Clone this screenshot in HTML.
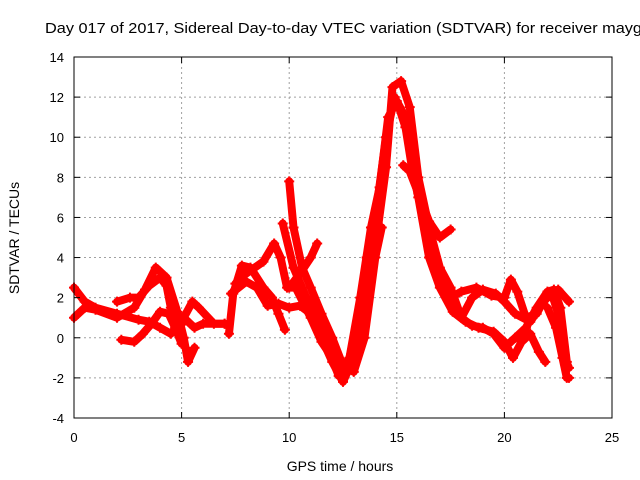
<!DOCTYPE html>
<html><head><meta charset="utf-8"><style>
body{margin:0;background:#fff}
svg{display:block;font-family:"Liberation Sans",sans-serif}
</style></head><body>
<svg id="chart" width="640" height="480">
<text x="45" y="33" font-size="15" textLength="597" lengthAdjust="spacingAndGlyphs">Day 017 of 2017, Sidereal Day-to-day VTEC variation (SDTVAR) for receiver mayg</text>
<text x="340" y="471" font-size="14" text-anchor="middle">GPS time / hours</text>
<text transform="translate(19,238) rotate(-90)" font-size="14" text-anchor="middle">SDTVAR / TECUs</text>
<g id="grid"></g><g id="series"></g><g id="axes"></g>
</svg>
<script>
const xTicks=[0,5,10,15,20,25];
const yTicks=[-4,-2,0,2,4,6,8,10,12,14];
const track1X=[0,0.5,1,2,3,3.5,4,4.5,5,5.5,5.8,6.5,7];
const track1Y=[2.5,1.8,1.5,1.2,0.9,0.8,0.5,0.2,0.8,1.8,1.5,0.7,0.7];
const track2X=[0,0.5,1,2,2.8,3.3,3.8,4.3,4.8,5.1,5.3,5.6];
const track2Y=[1.0,1.5,1.4,1.0,1.5,2.4,3.5,3.0,1.3,0,-1.2,-0.5];
const track3X=[2,2.6,3,3.5,4,4.3,4.5,4.8,5.2,5.6,6,7];
const track3Y=[1.8,2.0,2.0,2.6,3.0,2.6,1.5,0.5,0.9,0.5,0.7,0.7];
const track4X=[2.2,2.8,3.2,3.6,4,4.4,4.7,5];
const track4Y=[-0.1,-0.2,0.2,0.7,1.3,1.2,0.5,-0.3];
const track5X=[7.2,7.4,7.8,8.2,8.8,9.2,9.5,9.8];
const track5Y=[0.2,2.2,3.6,3.5,2.5,2.0,1.2,0.4];
const track6X=[7.3,8,8.5,9,9.5,10,10.5,11,11.5,12,12.5,13,13.5,14,14.5,14.8,15.2,15.6,16,16.5,17,17.5,18,18.5,19,19.5,20,20.5,21,21.5,22,22.3,22.6,22.9];
const track6Y=[2.2,2.8,2.5,1.6,1.7,1.5,1.6,1.2,0,-1.2,-2.2,-1.0,2.0,4.5,8.5,12.5,12.8,11.5,8,5.5,3.5,2.5,1.0,0.6,0.5,0.2,-0.5,0,0.5,1.5,2.3,2.4,1.5,-1.2];
const track7X=[7.5,8,8.8,9.3,9.6,9.9,10.3,11,11.5,12,12.4,12.8,13.2,13.6,14,14.5,14.9,15.1,15.4,15.8,16.2,16.6,17,17.5,18,18.7,19.4,20,20.3,20.6,21,21.5,22,22.5,23];
const track7Y=[2.7,3.2,3.8,4.7,4.0,2.5,2.5,1.0,-0.2,-1.0,-1.8,-1.0,1,4,6,10,12,11.5,10.5,9,6.5,4.3,2.9,2.0,2.3,2.5,2.1,2.0,2.9,2.3,1.0,1.2,2.2,2.4,1.8];
const track8X=[9.7,10.2,10.8,11.3,11.8,12.3,12.8,13.3,13.8,14.2,14.6,15,15.3,15.7,16,16.5,17,17.6,18.2,18.8,19.5,20,20.4,20.8,21.2,21.6,21.9];
const track8Y=[5.7,3.5,2.0,1.0,-0.5,-1.9,-1.0,2,5.5,7.5,11,11.8,11.2,8.5,7,4,2.5,1.3,0.8,0.5,0.3,-0.2,-1,-0.2,0.2,-0.7,-1.2];
const track9X=[10,10.2,10.6,11,11.5,12,12.5,13,13.5,14,14.3];
const track9Y=[7.8,5.5,3.5,2.5,1.2,0,-1.4,-1.7,0,4,5.5];
const track10X=[10,10.5,11,11.3];
const track10Y=[2.5,3.2,4,4.7];
const track11X=[15.3,15.6,16,16.5,17,17.5];
const track11Y=[8.6,8.3,7.2,5.8,5.0,5.4];
const track12X=[18,18.5,19,19.6,20,20.5,21.2,21.7,22];
const track12Y=[1.0,2.0,2.4,2.2,1.8,1.2,0.8,1.6,2.1];
const track13X=[21.8,22.2,22.5,22.8,23];
const track13Y=[1.8,2.2,1.2,-1.0,-1.5];
const track14X=[22,22.4,22.7,22.9,23];
const track14Y=[1.5,0.5,-1.0,-2.0,-2.0];
const tracksX=[track1X,track2X,track3X,track4X,track5X,track6X,track7X,track8X,track9X,track10X,track11X,track12X,track13X,track14X];
const tracksY=[track1Y,track2Y,track3Y,track4Y,track5Y,track6Y,track7Y,track8Y,track9Y,track10Y,track11Y,track12Y,track13Y,track14Y];

const L=74,R=612,T=57,B=418;
const sx=v=>L+(v-0)/(25-0)*(R-L);
const sy=v=>B-(v+4)/(18)*(B-T);
const NS="http://www.w3.org/2000/svg";
const mk=(tag,attrs,parent)=>{const e=document.createElementNS(NS,tag);for(const k in attrs)e.setAttribute(k,attrs[k]);parent.appendChild(e);return e;};
const grid=document.getElementById('grid'),axes=document.getElementById('axes'),series=document.getElementById('series');
xTicks.forEach(t=>{
  const x=sx(t);
  if(t>0&&t<25){const g=mk('line',{x1:x,x2:x,y1:T,y2:B,stroke:'#a0a0a0','stroke-dasharray':'2,3'},grid);
  
  }
  mk('line',{x1:x,x2:x,y1:B,y2:B-6,stroke:'#000'},axes);
  mk('line',{x1:x,x2:x,y1:T,y2:T+6,stroke:'#000'},axes);
  const tx=mk('text',{x:x,y:B+24,'font-size':13,'text-anchor':'middle'},axes);tx.textContent=t;
  
  
});
yTicks.forEach(t=>{
  const y=sy(t);
  if(t>-4&&t<14){const g=mk('line',{x1:L,x2:R,y1:y,y2:y,stroke:'#a0a0a0','stroke-dasharray':'2,3'},grid);
  
  }
  mk('line',{x1:L,x2:L+6,y1:y,y2:y,stroke:'#000'},axes);
  mk('line',{x1:R,x2:R-6,y1:y,y2:y,stroke:'#000'},axes);
  const tx=mk('text',{x:L-10,y:y+5,'font-size':13,'text-anchor':'end'},axes);tx.textContent=t;
  
  
});
const border=mk('rect',{x:L,y:T,width:R-L,height:B-T,fill:'none',stroke:'#000'},axes);


tracksX.forEach((xs,i)=>{
  const ys=tracksY[i];
  const pts=xs.map((x,j)=>sx(x)+','+sy(ys[j])).join(' ');
  const pl=mk('polyline',{points:pts,fill:'none',stroke:'#ff0000','stroke-width':8,'stroke-linejoin':'round','stroke-linecap':'round'},series);
  
  
  xs.forEach((x,j)=>{
    const cx=sx(x),cy=sy(ys[j]);
    const p=mk('path',{d:`M${cx-5},${cy}H${cx+5}M${cx},${cy-5}V${cy+5}`,stroke:'#ff0000','stroke-width':2},series);
    
    
  });
});
</script>
</body></html>
